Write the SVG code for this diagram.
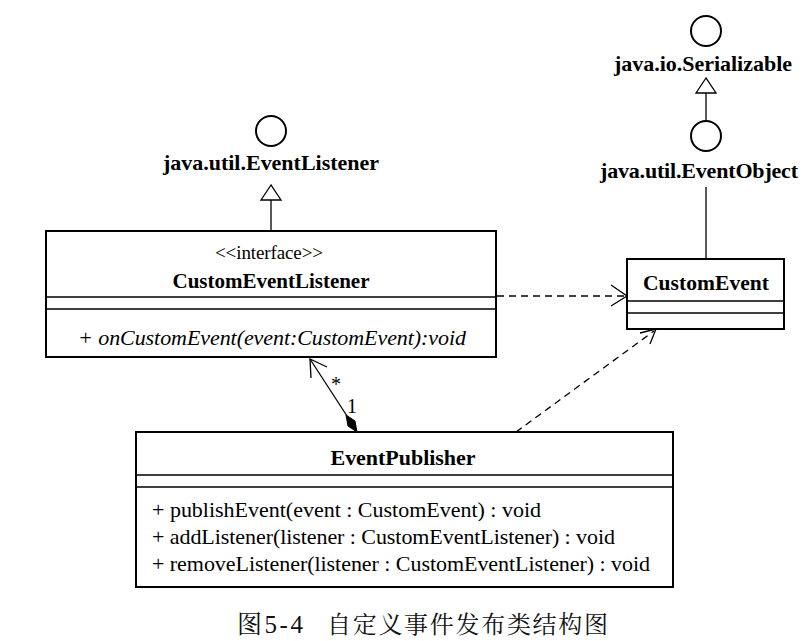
<svg xmlns="http://www.w3.org/2000/svg" width="806" height="641" viewBox="0 0 806 641">
<style>
.box{fill:#fff;stroke:#000;stroke-width:2}
.div{stroke:#000;stroke-width:1.3}
.ln{stroke:#000;stroke-width:1.3;fill:none}
.dash{stroke:#000;stroke-width:1.3;fill:none;stroke-dasharray:7,5}
.circ{fill:#fff;stroke:#000;stroke-width:2}
</style>
<rect width="806" height="641" fill="#fff"/>
<g id="connectors">
  <line class="ln" x1="271" y1="200" x2="271" y2="231"/>
  <polygon points="271,185 261,200 281,200" fill="#fff" stroke="#000" stroke-width="1.3"/>
  <line class="ln" x1="706" y1="93" x2="706" y2="120"/>
  <polygon points="706,78 696,93 716,93" fill="#fff" stroke="#000" stroke-width="1.3"/>
  <line class="ln" x1="706" y1="187" x2="706" y2="259"/>
  <line class="dash" x1="497" y1="296" x2="625" y2="296"/>
  <polyline class="ln" points="611,285 627,296 611,306"/>
  <line class="dash" x1="516" y1="432" x2="654" y2="331"/>
  <polyline class="ln" points="640,333 656,329 650,344"/>
  <line class="ln" x1="310" y1="359" x2="347" y2="416"/>
  <polyline class="ln" points="327,367 310,359 311,378"/>
  <polygon points="357,432 348,426 346,415 355,421" fill="#000" stroke="#000" stroke-width="1"/>
  <text x="331" y="391" style="font-family:'Liberation Serif',serif;font-size:20px">*</text>
  <text x="347" y="413" style="font-family:'Liberation Serif',serif;font-size:20px">1</text>
</g>
<g id="EventListener">
  <circle class="circ" cx="271" cy="131" r="15"/>
  <text x="271" y="170" text-anchor="middle" textLength="216" style="font-family:'Liberation Serif',serif;font-size:22px;font-weight:bold">java.util.EventListener</text>
</g>
<g id="Serializable">
  <circle class="circ" cx="706" cy="31" r="15"/>
  <text x="703" y="71" text-anchor="middle" textLength="178" style="font-family:'Liberation Serif',serif;font-size:22px;font-weight:bold">java.io.Serializable</text>
</g>
<g id="EventObject">
  <circle class="circ" cx="706" cy="136" r="15"/>
  <text x="699" y="178" text-anchor="middle" textLength="198" style="font-family:'Liberation Serif',serif;font-size:22px;font-weight:bold">java.util.EventObject</text>
</g>
<g id="CustomEventListener">
  <rect class="box" x="46" y="231" width="450" height="126"/>
  <line class="div" x1="46" y1="297" x2="496" y2="297"/>
  <line class="div" x1="46" y1="309" x2="496" y2="309"/>
  <text x="269" y="259" text-anchor="middle" textLength="108" style="font-family:'Liberation Serif',serif;font-size:19px">&lt;&lt;interface&gt;&gt;</text>
  <text x="271" y="288" text-anchor="middle" textLength="197" style="font-family:'Liberation Serif',serif;font-size:21px;font-weight:bold">CustomEventListener</text>
  <text x="78" y="345" textLength="388" style="font-family:'Liberation Serif',serif;font-size:22px;font-style:italic">+ onCustomEvent(event:CustomEvent):void</text>
</g>
<g id="CustomEvent">
  <rect class="box" x="627" y="259" width="157" height="70"/>
  <line class="div" x1="627" y1="301" x2="784" y2="301"/>
  <line class="div" x1="627" y1="313" x2="784" y2="313"/>
  <text x="706" y="290" text-anchor="middle" textLength="126" style="font-family:'Liberation Serif',serif;font-size:21.5px;font-weight:bold">CustomEvent</text>
</g>
<g id="EventPublisher">
  <rect class="box" x="136" y="432" width="537" height="155"/>
  <line class="div" x1="136" y1="475" x2="673" y2="475"/>
  <line class="div" x1="136" y1="487" x2="673" y2="487"/>
  <text x="403" y="465" text-anchor="middle" textLength="145" style="font-family:'Liberation Serif',serif;font-size:22px;font-weight:bold">EventPublisher</text>
  <text x="152" y="517" textLength="389" style="font-family:'Liberation Serif',serif;font-size:22px">+ publishEvent(event : CustomEvent) : void</text>
  <text x="152" y="544" textLength="463" style="font-family:'Liberation Serif',serif;font-size:22px">+ addListener(listener : CustomEventListener) : void</text>
  <text x="152" y="571" textLength="498" style="font-family:'Liberation Serif',serif;font-size:22px">+ removeListener(listener : CustomEventListener) : void</text>
</g>
<g id="caption">
  <text x="237" y="633" textLength="66" style="font-family:'Liberation Serif','Noto Serif CJK SC','Noto Sans CJK SC',serif;font-size:25px;fill:#111">图5-4</text>
  <text x="327" y="633" textLength="281" style="font-family:'Liberation Serif','Noto Serif CJK SC','Noto Sans CJK SC',serif;font-size:24px;fill:#111">自定义事件发布类结构图</text>
</g>
</svg>
